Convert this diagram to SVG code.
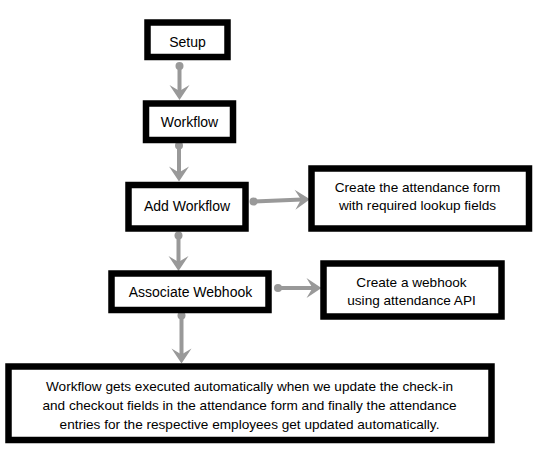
<svg xmlns="http://www.w3.org/2000/svg" width="534" height="451" viewBox="0 0 534 451">
<style>
.box{fill:#fff;stroke:#000;stroke-width:6.5}
.lbl{font-family:"Liberation Sans",Arial,sans-serif;font-size:14px;fill:#000;text-anchor:middle}
.txt{font-family:"Liberation Sans",Arial,sans-serif;font-size:13.6px;fill:#000;text-anchor:middle}
.con{stroke:#999;stroke-width:4;fill:none}
.dot{fill:#999}
</style>
<defs>
<marker id="arr" markerUnits="userSpaceOnUse" markerWidth="20" markerHeight="24" viewBox="-16 -12 17 24" refX="-8" refY="0" orient="auto" overflow="visible">
<path d="M0,0 L-15,-10 L-9,0 L-15,10 Z" fill="#999"/>
</marker>
</defs>
<rect width="534" height="451" fill="#fff"/>
<g id="connectors">
<circle class="dot" cx="179.5" cy="66" r="4"/>
<line class="con" x1="179.5" y1="66" x2="179.5" y2="92" marker-end="url(#arr)"/>
<circle class="dot" cx="179" cy="145.5" r="4"/>
<line class="con" x1="179" y1="145.5" x2="179" y2="173.5" marker-end="url(#arr)"/>
<circle class="dot" cx="253.5" cy="201.5" r="4"/>
<line class="con" x1="253.5" y1="201.5" x2="302" y2="199.5" marker-end="url(#arr)"/>
<circle class="dot" cx="178.5" cy="235.5" r="4"/>
<line class="con" x1="178.5" y1="235.5" x2="178.5" y2="263" marker-end="url(#arr)"/>
<circle class="dot" cx="278" cy="288" r="4"/>
<line class="con" x1="278" y1="288" x2="313.5" y2="288" marker-end="url(#arr)"/>
<circle class="dot" cx="181.5" cy="315.5" r="4"/>
<line class="con" x1="181.5" y1="315.5" x2="181.5" y2="355.5" marker-end="url(#arr)"/>
</g>
<g id="setup">
<rect class="box" x="147.5" y="22.5" width="80" height="34.5"/>
<text class="lbl" x="187.5" y="46.5">Setup</text>
</g>
<g id="workflow">
<rect class="box" x="146" y="103.5" width="87" height="36.5"/>
<text class="lbl" x="189.5" y="127">Workflow</text>
</g>
<g id="add-workflow">
<rect class="box" x="128.5" y="185" width="117" height="43.5"/>
<text class="lbl" x="187" y="210.5">Add Workflow</text>
</g>
<g id="associate-webhook">
<rect class="box" x="111.5" y="273.5" width="157" height="36.5"/>
<text class="lbl" x="190.5" y="297">Associate Webhook</text>
</g>
<g id="create-form">
<rect class="box" x="311.5" y="168.5" width="217.5" height="60"/>
<text class="txt" x="417.5" y="191.5">Create the attendance form</text>
<text class="txt" x="417.5" y="210">with required lookup fields</text>
</g>
<g id="create-webhook">
<rect class="box" x="323.5" y="263.5" width="178" height="53"/>
<text class="txt" x="411.5" y="286.5">Create a webhook</text>
<text class="txt" x="411.5" y="305">using attendance API</text>
</g>
<g id="result">
<rect class="box" x="8.5" y="366.5" width="483" height="73.5"/>
<text class="txt" x="249.5" y="390.5">Workflow gets executed automatically when we update the check-in</text>
<text class="txt" x="249.5" y="409.5">and checkout fields in the attendance form and finally the attendance</text>
<text class="txt" x="249.5" y="428.5">entries for the respective employees get updated automatically.</text>
</g>
</svg>
